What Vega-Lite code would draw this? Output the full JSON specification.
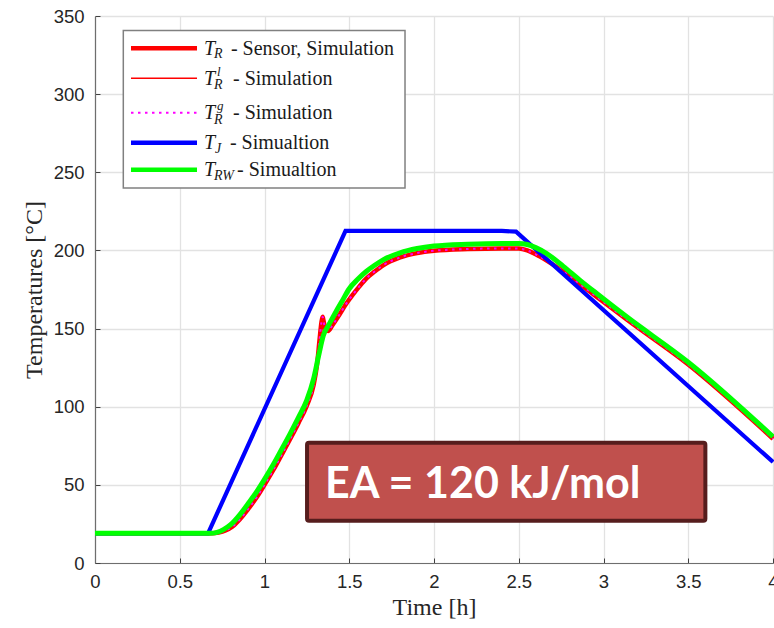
{
  "$schema": "https://vega.github.io/schema/vega-lite/v6.json",
  "width": 678,
  "height": 547,
  "autosize": {"type": "none"},
  "padding": {"left": 95, "top": 16, "right": 1, "bottom": 65},
  "background": "white",
  "datasets": {
    "TJ": [
      {"t": 0, "v": 19}, {"t": 0.667, "v": 19}, {"t": 1.478, "v": 212.5},
      {"t": 2.4, "v": 212.5}, {"t": 2.484, "v": 212}, {"t": 4, "v": 64.6}
    ],
    "TRW": [
      {"t": 0, "v": 19}, {"t": 0.68, "v": 19}, {"t": 0.72, "v": 19.6}, {"t": 0.76, "v": 21.5},
      {"t": 0.8, "v": 24.5}, {"t": 0.855, "v": 31}, {"t": 0.9, "v": 37.5}, {"t": 0.954, "v": 45.6},
      {"t": 1.0, "v": 53.5}, {"t": 1.052, "v": 63}, {"t": 1.1, "v": 72.5}, {"t": 1.15, "v": 82.5},
      {"t": 1.2, "v": 93}, {"t": 1.249, "v": 104}, {"t": 1.29, "v": 118}, {"t": 1.32, "v": 133},
      {"t": 1.347, "v": 145.5}, {"t": 1.38, "v": 152.5}, {"t": 1.42, "v": 160.5}, {"t": 1.46, "v": 168},
      {"t": 1.5, "v": 175.5}, {"t": 1.55, "v": 181.5}, {"t": 1.6, "v": 186.5}, {"t": 1.65, "v": 190.5},
      {"t": 1.7, "v": 194}, {"t": 1.8, "v": 198.5}, {"t": 1.9, "v": 201.2}, {"t": 2.0, "v": 202.8},
      {"t": 2.2, "v": 204}, {"t": 2.4, "v": 204.5}, {"t": 2.5, "v": 204.5}, {"t": 2.55, "v": 203.8},
      {"t": 2.6, "v": 201.8}, {"t": 2.665, "v": 198}, {"t": 2.763, "v": 189.8}, {"t": 2.86, "v": 181},
      {"t": 2.96, "v": 172.4}, {"t": 3.137, "v": 157.5}, {"t": 3.5, "v": 128.5}, {"t": 4.0, "v": 80.8}
    ],
    "TR": [
      {"t": 0, "v": 19}, {"t": 0.69, "v": 19}, {"t": 0.73, "v": 19.5}, {"t": 0.77, "v": 20.8},
      {"t": 0.81, "v": 23.2}, {"t": 0.855, "v": 28}, {"t": 0.9, "v": 34}, {"t": 0.954, "v": 42},
      {"t": 1.0, "v": 50}, {"t": 1.052, "v": 59.5}, {"t": 1.1, "v": 69}, {"t": 1.15, "v": 79},
      {"t": 1.2, "v": 89.5}, {"t": 1.249, "v": 100.5}, {"t": 1.29, "v": 114}, {"t": 1.31, "v": 127},
      {"t": 1.325, "v": 143}, {"t": 1.336, "v": 154}, {"t": 1.343, "v": 157.5}, {"t": 1.35, "v": 154},
      {"t": 1.36, "v": 149.5}, {"t": 1.375, "v": 148.5}, {"t": 1.4, "v": 152}, {"t": 1.44, "v": 158.5},
      {"t": 1.48, "v": 165.5}, {"t": 1.52, "v": 171.5}, {"t": 1.56, "v": 177}, {"t": 1.6, "v": 182},
      {"t": 1.65, "v": 186.5}, {"t": 1.7, "v": 190.5}, {"t": 1.8, "v": 195.5}, {"t": 1.9, "v": 198.3},
      {"t": 2.0, "v": 199.8}, {"t": 2.2, "v": 200.9}, {"t": 2.4, "v": 201.3}, {"t": 2.5, "v": 201.2},
      {"t": 2.55, "v": 200}, {"t": 2.6, "v": 197.5}, {"t": 2.665, "v": 193.5}, {"t": 2.763, "v": 186.5},
      {"t": 2.86, "v": 178.5}, {"t": 2.96, "v": 170.3}, {"t": 3.137, "v": 155.8}, {"t": 3.5, "v": 127},
      {"t": 4.0, "v": 79.5}
    ]
  },
  "encoding": {
    "x": {"type": "quantitative", "scale": {"domain": [0, 4], "nice": false},
          "axis": {"title": "Time [h]", "values": [0, 0.5, 1, 1.5, 2, 2.5, 3, 3.5, 4], "format": "~g", "labelFlush": false, "labelOverlap": false}},
    "y": {"type": "quantitative", "scale": {"domain": [0, 350], "nice": false},
          "axis": {"title": "Temperatures [°C]", "values": [0, 50, 100, 150, 200, 250, 300, 350], "format": "d"}}
  },
  "layer": [
    {
      "data": {"name": "TR"},
      "mark": {"type": "line", "color": "#FF0000", "strokeWidth": 4.5, "interpolate": "monotone"},
      "encoding": {"x": {"field": "t"}, "y": {"field": "v"}}
    },
    {
      "data": {"name": "TR"},
      "mark": {"type": "line", "color": "#FF0000", "strokeWidth": 1.5, "interpolate": "monotone"},
      "encoding": {"x": {"field": "t"}, "y": {"field": "v"}}
    },
    {
      "data": {"name": "TR"},
      "mark": {"type": "line", "color": "#FF00FF", "strokeWidth": 2, "strokeDash": [2.5, 4.5], "interpolate": "monotone"},
      "encoding": {"x": {"field": "t"}, "y": {"field": "v"}}
    },
    {
      "data": {"name": "TJ"},
      "mark": {"type": "line", "color": "#0000FF", "strokeWidth": 4.2},
      "encoding": {"x": {"field": "t"}, "y": {"field": "v"}}
    },
    {
      "data": {"name": "TRW"},
      "mark": {"type": "line", "color": "#00FF00", "strokeWidth": 5, "interpolate": "monotone"},
      "encoding": {"x": {"field": "t"}, "y": {"field": "v"}}
    },
    {
      "data": {"values": [{"box": "legend"}]},
      "mark": {"type": "rect", "fill": "white", "stroke": "#808080", "strokeWidth": 1.5},
      "encoding": {
        "x": {"datum": 0.167}, "x2": {"datum": 1.829},
        "y": {"datum": 239.9}, "y2": {"datum": 340.7}
      }
    },
    {
      "data": {"values": [{"main": "T", "sub": "R", "rest": "- Sensor, Simulation"}]},
      "encoding": {"y": {"datum": 329.4}},
      "layer": [
        {"mark": {"type": "rule", "color": "#FF0000", "strokeWidth": 4.5}, "encoding": {"x": {"datum": 0.2124}, "x2": {"datum": 0.6018}}},
        {"mark": {"type": "text", "font": "Liberation Serif", "fontStyle": "italic", "fontSize": 20, "align": "left", "baseline": "alphabetic", "dy": 6.5, "color": "#1a1a1a"}, "encoding": {"x": {"datum": 0.643}, "text": {"field": "main"}}},
        {"mark": {"type": "text", "font": "Liberation Serif", "fontStyle": "italic", "fontSize": 14, "align": "left", "baseline": "alphabetic", "dx": 10, "dy": 10, "color": "#1a1a1a"}, "encoding": {"x": {"datum": 0.643}, "text": {"field": "sub"}}},
        {"mark": {"type": "text", "font": "Liberation Serif", "fontSize": 20, "align": "left", "baseline": "alphabetic", "dy": 6.5, "color": "#1a1a1a"}, "encoding": {"x": {"datum": 0.802}, "text": {"field": "rest"}}}
      ]
    },
    {
      "data": {"values": [{"main": "T", "sub": "R", "sup": "l", "rest": "- Simulation"}]},
      "encoding": {"y": {"datum": 310.2}},
      "layer": [
        {"mark": {"type": "rule", "color": "#FF0000", "strokeWidth": 1.5}, "encoding": {"x": {"datum": 0.2124}, "x2": {"datum": 0.6018}}},
        {"mark": {"type": "text", "font": "Liberation Serif", "fontStyle": "italic", "fontSize": 20, "align": "left", "baseline": "alphabetic", "dy": 6.5, "color": "#1a1a1a"}, "encoding": {"x": {"datum": 0.643}, "text": {"field": "main"}}},
        {"mark": {"type": "text", "font": "Liberation Serif", "fontStyle": "italic", "fontSize": 14, "align": "left", "baseline": "alphabetic", "dx": 10, "dy": 11, "color": "#1a1a1a"}, "encoding": {"x": {"datum": 0.643}, "text": {"field": "sub"}}},
        {"mark": {"type": "text", "font": "Liberation Serif", "fontStyle": "italic", "fontSize": 13, "align": "left", "baseline": "alphabetic", "dx": 13, "dy": -2.5, "color": "#1a1a1a"}, "encoding": {"x": {"datum": 0.643}, "text": {"field": "sup"}}},
        {"mark": {"type": "text", "font": "Liberation Serif", "fontSize": 20, "align": "left", "baseline": "alphabetic", "dy": 6.5, "color": "#1a1a1a"}, "encoding": {"x": {"datum": 0.814}, "text": {"field": "rest"}}}
      ]
    },
    {
      "data": {"values": [{"main": "T", "sub": "R", "sup": "g", "rest": "- Simulation"}]},
      "encoding": {"y": {"datum": 288.1}},
      "layer": [
        {"mark": {"type": "rule", "color": "#FF00FF", "strokeWidth": 2, "strokeDash": [2.5, 4.5]}, "encoding": {"x": {"datum": 0.2124}, "x2": {"datum": 0.6018}}},
        {"mark": {"type": "text", "font": "Liberation Serif", "fontStyle": "italic", "fontSize": 20, "align": "left", "baseline": "alphabetic", "dy": 6.5, "color": "#1a1a1a"}, "encoding": {"x": {"datum": 0.643}, "text": {"field": "main"}}},
        {"mark": {"type": "text", "font": "Liberation Serif", "fontStyle": "italic", "fontSize": 14, "align": "left", "baseline": "alphabetic", "dx": 10, "dy": 11, "color": "#1a1a1a"}, "encoding": {"x": {"datum": 0.643}, "text": {"field": "sub"}}},
        {"mark": {"type": "text", "font": "Liberation Serif", "fontStyle": "italic", "fontSize": 13, "align": "left", "baseline": "alphabetic", "dx": 13, "dy": -2.5, "color": "#1a1a1a"}, "encoding": {"x": {"datum": 0.643}, "text": {"field": "sup"}}},
        {"mark": {"type": "text", "font": "Liberation Serif", "fontSize": 20, "align": "left", "baseline": "alphabetic", "dy": 6.5, "color": "#1a1a1a"}, "encoding": {"x": {"datum": 0.814}, "text": {"field": "rest"}}}
      ]
    },
    {
      "data": {"values": [{"main": "T", "sub": "J", "rest": "- Simualtion"}]},
      "encoding": {"y": {"datum": 268.9}},
      "layer": [
        {"mark": {"type": "rule", "color": "#0000FF", "strokeWidth": 4.5}, "encoding": {"x": {"datum": 0.2124}, "x2": {"datum": 0.6018}}},
        {"mark": {"type": "text", "font": "Liberation Serif", "fontStyle": "italic", "fontSize": 20, "align": "left", "baseline": "alphabetic", "dy": 6.5, "color": "#1a1a1a"}, "encoding": {"x": {"datum": 0.643}, "text": {"field": "main"}}},
        {"mark": {"type": "text", "font": "Liberation Serif", "fontStyle": "italic", "fontSize": 14, "align": "left", "baseline": "alphabetic", "dx": 11, "dy": 10, "color": "#1a1a1a"}, "encoding": {"x": {"datum": 0.643}, "text": {"field": "sub"}}},
        {"mark": {"type": "text", "font": "Liberation Serif", "fontSize": 20, "align": "left", "baseline": "alphabetic", "dy": 6.5, "color": "#1a1a1a"}, "encoding": {"x": {"datum": 0.796}, "text": {"field": "rest"}}}
      ]
    },
    {
      "data": {"values": [{"main": "T", "sub": "RW", "rest": "- Simualtion"}]},
      "encoding": {"y": {"datum": 251.7}},
      "layer": [
        {"mark": {"type": "rule", "color": "#00FF00", "strokeWidth": 4.5}, "encoding": {"x": {"datum": 0.2124}, "x2": {"datum": 0.6018}}},
        {"mark": {"type": "text", "font": "Liberation Serif", "fontStyle": "italic", "fontSize": 20, "align": "left", "baseline": "alphabetic", "dy": 6.5, "color": "#1a1a1a"}, "encoding": {"x": {"datum": 0.643}, "text": {"field": "main"}}},
        {"mark": {"type": "text", "font": "Liberation Serif", "fontStyle": "italic", "fontSize": 14, "align": "left", "baseline": "alphabetic", "dx": 10, "dy": 10, "color": "#1a1a1a"}, "encoding": {"x": {"datum": 0.643}, "text": {"field": "sub"}}},
        {"mark": {"type": "text", "font": "Liberation Serif", "fontSize": 20, "align": "left", "baseline": "alphabetic", "dy": 6.5, "color": "#1a1a1a"}, "encoding": {"x": {"datum": 0.838}, "text": {"field": "rest"}}}
      ]
    },
    {
      "data": {"values": [{"label": "EA = 120 kJ/mol"}]},
      "layer": [
        {
          "mark": {"type": "rect", "fill": "#C0504D", "stroke": "#561D1D", "strokeWidth": 4, "cornerRadius": 2},
          "encoding": {
            "x": {"datum": 1.251}, "x2": {"datum": 3.601},
            "y": {"datum": 27.0}, "y2": {"datum": 76.9}
          }
        },
        {
          "mark": {"type": "text", "font": "Lato", "fontWeight": "bold", "fontSize": 43, "align": "left", "baseline": "alphabetic", "color": "white"},
          "encoding": {
            "x": {"datum": 1.357},
            "y": {"datum": 41.55},
            "text": {"field": "label"}
          }
        }
      ]
    }
  ],
  "config": {
    "view": {"stroke": null},
    "axis": {
      "domainColor": "#6e6e6e", "domainWidth": 1.2,
      "tickColor": "#404040", "tickSize": -5, "tickWidth": 1,
      "grid": true, "gridColor": "#e2e2e2", "gridWidth": 1.3,
      "labelFont": "Liberation Sans", "labelFontSize": 18.5, "labelColor": "#262626",
      "titleFont": "Liberation Serif", "titleFontSize": 24, "titleFontWeight": "normal", "titleColor": "#262626"
    },
    "axisX": {"labelPadding": 14, "titlePadding": 5},
    "axisY": {"labelPadding": 16, "titlePadding": 7}
  }
}
